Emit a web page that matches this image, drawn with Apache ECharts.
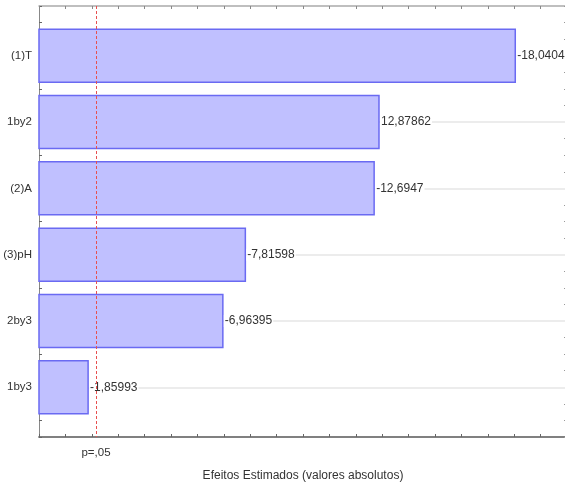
<!DOCTYPE html>
<html>
<head>
<meta charset="utf-8">
<script src="https://cdn.jsdelivr.net/npm/echarts@6/dist/echarts.min.js"></script>
<style>
  html, body { margin: 0; padding: 0; background: #fff; }
  #chart { width: 565px; height: 486px; }
</style>
</head>
<body>
<div id="chart"></div>
<script>
// Pareto chart of standardized effects
var effectNames = ['(1)T', '1by2', '(2)A', '(3)pH', '2by3', '1by3'];
var effectValues = [-18.0404, 12.87862, -12.6947, -7.81598, -6.96395, -1.85993];
var effectLabels = ['-18,0404', '12,87862', '-12,6947', '-7,81598', '-6,96395', '-1,85993'];
var pCritical = 2.16037;
var pLabel = 'p=,05';
var axisTitle = 'Efeitos Estimados (valores absolutos)';

var FONT = '"Liberation Sans", Arial, sans-serif';

var barData = effectValues.map(function (v, i) {
  return [Math.abs(v), i + 1, i];
});
var rowLines = effectNames.map(function (n, i) { return { yAxis: i + 1 }; });

var chart = echarts.init(document.getElementById('chart'));

chart.setOption({
  animation: false,
  textStyle: { fontFamily: FONT },
  grid: {
    left: 39, top: 6, bottom: 49, width: 528,
    containLabel: false, outerBoundsMode: 'none'
  },
  xAxis: [{
    type: 'value', position: 'bottom', min: 0, max: 20, interval: 1,
    name: axisTitle, nameLocation: 'middle', nameGap: 33,
    nameTextStyle: { color: '#333', fontSize: 12, fontFamily: FONT },
    axisLine: { show: true, lineStyle: { color: '#808080', width: 1.8 } },
    axisTick: { show: true, inside: true, length: 3, lineStyle: { color: '#666' } },
    axisLabel: { show: false },
    splitLine: { show: false }
  }, {
    type: 'value', position: 'top', min: 0, max: 20, interval: 1,
    axisLine: { show: true, onZero: false, lineStyle: { color: '#aaa', width: 1.5 } },
    axisTick: { show: true, inside: true, length: 3, lineStyle: { color: '#888' } },
    axisLabel: { show: false },
    splitLine: { show: false }
  }],
  yAxis: [{
    type: 'value', position: 'left', inverse: true, min: 0.25, max: 6.75, interval: 0.25,
    axisLine: { show: true, onZero: false, lineStyle: { color: '#888', width: 1 } },
    axisTick: { show: true, inside: true, length: 3, lineStyle: { color: '#666' } },
    axisLabel: {
      show: true, margin: 7, color: '#333', fontSize: 11.5, fontFamily: FONT,
      formatter: function (v) {
        return Number.isInteger(v) && v >= 1 && v <= effectNames.length ? effectNames[v - 1] : '';
      }
    },
    splitLine: { show: false }
  }, {
    type: 'value', position: 'right', inverse: true, min: 0.25, max: 6.75, interval: 0.25,
    axisLine: { show: true, onZero: false, lineStyle: { color: '#aaa', width: 1 } },
    axisTick: { show: true, inside: true, length: 3, lineStyle: { color: '#999' } },
    axisLabel: { show: false },
    splitLine: { show: false }
  }],
  series: [{
    // light row guides at each effect
    type: 'line', data: [], z: 1, silent: true,
    markLine: {
      z: 1, silent: true, symbol: ['none', 'none'], animation: false,
      label: { show: false },
      lineStyle: { color: '#ececec', width: 2, type: 'solid' },
      data: rowLines
    }
  }, {
    type: 'custom', z: 5, silent: true,
    data: barData,
    encode: { x: 0, y: 1 },
    renderItem: function (params, api) {
      var v = api.value(0), idx = api.value(1), k = api.value(2);
      var p0 = api.coord([0, idx]);
      var p1 = api.coord([v, idx]);
      var h = Math.abs(api.size([0, 0.8])[1]);
      return {
        type: 'group',
        children: [{
          type: 'rect',
          shape: { x: p0[0], y: p0[1] - h / 2, width: p1[0] - p0[0], height: h },
          style: { fill: '#c0c0ff', stroke: '#6a6af2', lineWidth: 1.5 }
        }, {
          type: 'text',
          x: p1[0] + 1, y: p1[1],
          style: {
            text: effectLabels[k], fill: '#333', fontSize: 12, fontFamily: FONT,
            verticalAlign: 'middle', align: 'left',
            backgroundColor: '#fff', padding: [0, 1, 0, 1]
          }
        }]
      };
    }
  }, {
    // significance threshold
    type: 'line', data: [], z: 10, silent: true,
    markLine: {
      z: 10, silent: true, symbol: ['none', 'none'], animation: false,
      lineStyle: { color: '#e8504f', width: 1, type: [3, 2] },
      label: {
        show: true, position: 'end', formatter: pLabel, distance: 10,
        color: '#333', fontSize: 11.5, fontFamily: FONT
      },
      data: [{ xAxis: pCritical }]
    }
  }]
});
</script>
</body>
</html>
